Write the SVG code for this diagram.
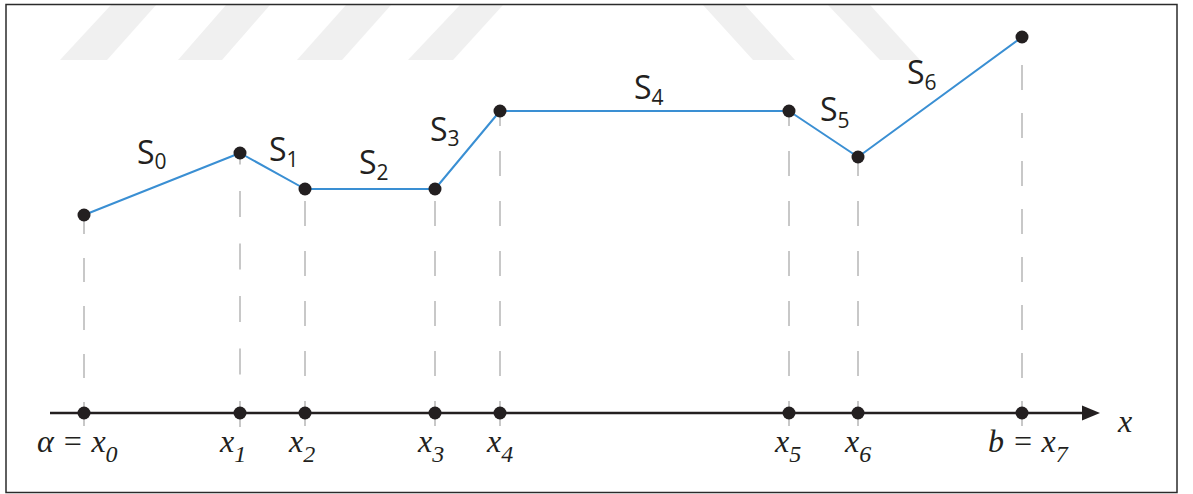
<svg xmlns="http://www.w3.org/2000/svg" width="1193" height="494" viewBox="0 0 1193 494">
  <style>
    .stripe { fill: #f0f0f0; }
    .frame { fill: none; stroke: #2b2b2b; stroke-width: 1.5; }
    .curve { fill: none; stroke: #3a8fd3; stroke-width: 2; stroke-linejoin: round; }
    .guide { stroke: #c8c8c8; stroke-width: 2; fill: none; }
    .axis { stroke: #231f20; stroke-width: 2.5; fill: none; }
    .dot { fill: #231f20; }
    .seg { font-family: "Open Sans", "Noto Sans", sans-serif; font-size: 32px; fill: #231f20; }
    .seg .sub { font-size: 21px; }
    .ax { font-family: "Times New Roman", Times, "Liberation Serif", serif; font-style: italic; font-size: 32px; fill: #231f20; }
    .ax .sub { font-size: 24px; }
  </style>

  <rect x="0" y="0" width="1193" height="494" fill="#ffffff"/>

  <g id="watermark">
    <polygon class="stripe" points="60,60 107,60 156,5 111,5"/>
    <polygon class="stripe" points="178,60 222,60 270,5 226,5"/>
    <polygon class="stripe" points="297,60 342,60 391,5 346,5"/>
    <polygon class="stripe" points="408,60 453,60 503,5 460,5"/>
    <polygon class="stripe" points="703,5 745,5 795,60 753,60"/>
    <polygon class="stripe" points="828,5 870,5 920,60 880,60"/>
  </g>

  <rect class="frame" x="6" y="4.5" width="1171" height="488"/>

  <g id="connectors">
    <g id="guides">
      <line class="guide" x1="84" y1="426" x2="84" y2="215" stroke-dasharray="24 24"/>
      <line class="guide" x1="240" y1="427" x2="240" y2="153" stroke-dasharray="26 26.5"/>
      <line class="guide" x1="305" y1="426" x2="305" y2="189" stroke-dasharray="25 25"/>
      <line class="guide" x1="435" y1="426" x2="435" y2="189" stroke-dasharray="25 25"/>
      <line class="guide" x1="500" y1="426" x2="500" y2="111" stroke-dasharray="25 25"/>
      <line class="guide" x1="789" y1="426" x2="789" y2="111" stroke-dasharray="25 25"/>
      <line class="guide" x1="858" y1="426" x2="858" y2="157" stroke-dasharray="25 25"/>
      <line class="guide" x1="1022" y1="426" x2="1022" y2="37" stroke-dasharray="25 23"/>
    </g>
    <g id="axis">
      <line class="axis" x1="50" y1="413" x2="1086" y2="413"/>
      <polygon class="dot" points="1082,405.5 1100,413 1082,420.5"/>
    </g>
    <polyline id="spline" class="curve" points="84,215 240,153 305,189 435,189 500,111 789,111 858,157 1022,37"/>
  </g>

  <g id="nodes">
    <g id="p0"><circle class="dot" cx="84" cy="215" r="6.5"/></g>
    <g id="p1"><circle class="dot" cx="240" cy="153" r="6.5"/></g>
    <g id="p2"><circle class="dot" cx="305" cy="189" r="6.5"/></g>
    <g id="p3"><circle class="dot" cx="435" cy="189" r="6.5"/></g>
    <g id="p4"><circle class="dot" cx="500" cy="111" r="6.5"/></g>
    <g id="p5"><circle class="dot" cx="789" cy="111" r="6.5"/></g>
    <g id="p6"><circle class="dot" cx="858" cy="157" r="6.5"/></g>
    <g id="p7"><circle class="dot" cx="1022" cy="37" r="6.5"/></g>

    <g id="a0"><circle class="dot" cx="84" cy="413" r="6.5"/></g>
    <g id="a1"><circle class="dot" cx="240" cy="413" r="6.5"/></g>
    <g id="a2"><circle class="dot" cx="305" cy="413" r="6.5"/></g>
    <g id="a3"><circle class="dot" cx="435" cy="413" r="6.5"/></g>
    <g id="a4"><circle class="dot" cx="500" cy="413" r="6.5"/></g>
    <g id="a5"><circle class="dot" cx="789" cy="413" r="6.5"/></g>
    <g id="a6"><circle class="dot" cx="858" cy="413" r="6.5"/></g>
    <g id="a7"><circle class="dot" cx="1022" cy="413" r="6.5"/></g>
  </g>

  <g id="segment-labels">
    <text class="seg" x="137" y="164">S<tspan class="sub" dy="5">0</tspan></text>
    <text class="seg" x="269" y="161">S<tspan class="sub" dy="6">1</tspan></text>
    <text class="seg" x="359" y="174">S<tspan class="sub" dy="6">2</tspan></text>
    <text class="seg" x="430" y="141">S<tspan class="sub" dy="5">3</tspan></text>
    <text class="seg" x="634" y="99">S<tspan class="sub" dy="6">4</tspan></text>
    <text class="seg" x="820" y="121">S<tspan class="sub" dy="7">5</tspan></text>
    <text class="seg" x="907" y="84">S<tspan class="sub" dy="6">6</tspan></text>
  </g>

  <g id="axis-labels">
    <text class="ax" x="37" y="452">α = x<tspan class="sub" dy="10">0</tspan></text>
    <text class="ax" x="220" y="452">x<tspan class="sub" dy="10">1</tspan></text>
    <text class="ax" x="289" y="452">x<tspan class="sub" dy="10">2</tspan></text>
    <text class="ax" x="418" y="452">x<tspan class="sub" dy="10">3</tspan></text>
    <text class="ax" x="487" y="452">x<tspan class="sub" dy="10">4</tspan></text>
    <text class="ax" x="775" y="452">x<tspan class="sub" dy="10">5</tspan></text>
    <text class="ax" x="845" y="452">x<tspan class="sub" dy="10">6</tspan></text>
    <text class="ax" x="988" y="452">b = x<tspan class="sub" dy="10">7</tspan></text>
    <text class="ax" x="1118" y="432">x</text>
  </g>
</svg>
